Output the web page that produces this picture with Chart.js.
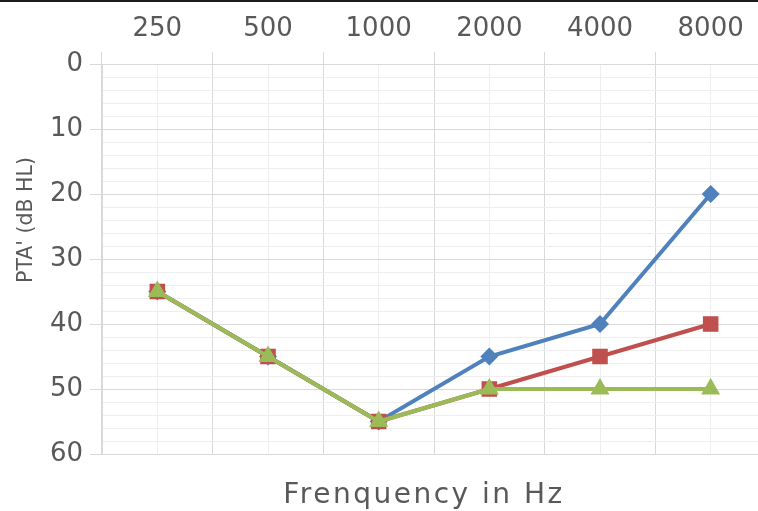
<!DOCTYPE html>
<html>
<head>
<meta charset="utf-8">
<script src="https://cdn.jsdelivr.net/npm/chart.js@4.4.1/dist/chart.umd.min.js"></script>
<style>
  html, body { margin: 0; padding: 0; background: #fff; overflow: hidden; }
  #wrap { position: relative; width: 777px; height: 511px; }
  #topline { position: absolute; left: 0; top: 0; width: 758px; height: 2px; background: #1c1c1c; z-index: 2; }
</style>
</head>
<body>
<div id="wrap">
  <div id="topline"></div>
  <canvas id="chart" width="777" height="511"></canvas>
</div>
<script>
// ── Data ──
const frequencies = ['250', '500', '1000', '2000', '4000', '8000'];
const seriesBlue  = [35, 45, 55, 45, 40, 20];
const seriesRed   = [35, 45, 55, 50, 45, 40];
const seriesGreen = [35, 45, 55, 50, 50, 50];
const yTitle = "PTA' (dB HL)";
const xTitle = 'Frenquency in Hz';

const textColor = '#595959';
const majorGrid = '#d9d9d9';
const minorGrid = '#eeeeee';

// axis titles drawn by hand so they sit where the source puts them
const titlesPlugin = {
  id: 'axisTitles',
  afterDraw(chart) {
    const { ctx } = chart;
    ctx.save();
    ctx.fillStyle = textColor;
    ctx.textAlign = 'center';
    ctx.textBaseline = 'middle';
    ctx.font = '28px "DejaVu Sans"';
    ctx.letterSpacing = '2.5px';
    ctx.fillText(xTitle, 424, 496);
    ctx.letterSpacing = '0px';
    ctx.translate(27, 220);
    ctx.rotate(-Math.PI / 2);
    ctx.font = '20.5px "DejaVu Sans"';
    ctx.fillText(yTitle, 0, 0);
    ctx.restore();
  }
};

new Chart(document.getElementById('chart'), {
  type: 'line',
  data: {
    labels: frequencies,
    datasets: [
      { data: seriesBlue, borderColor: '#4F81BD', backgroundColor: '#4F81BD', pointStyle: 'rectRot', pointRadius: 9, order: 2 },
      { data: seriesRed, borderColor: '#C0504D', backgroundColor: '#C0504D', pointStyle: 'rect', pointRadius: 11, order: 1 },
      { data: seriesGreen, borderColor: '#9BBB59', backgroundColor: '#9BBB59', pointStyle: 'triangle', pointRadius: 11, order: 0 },
    ].map(ds => ({ ...ds, borderWidth: 4, pointBorderWidth: 0, tension: 0, fill: false, xAxisID: 'x' })),
  },
  options: {
    responsive: false,
    animation: false,
    layout: { padding: { left: 0, right: 2, top: 0, bottom: 0 } },
    plugins: { legend: { display: false }, tooltip: { enabled: false } },
    scales: {
      x: {
        position: 'top',
        offset: true,
        grid: { offset: true, color: majorGrid, tickLength: 12, lineWidth: 1 },
        border: { display: false },
        ticks: { color: textColor, font: { family: 'DejaVu Sans', size: 26 }, padding: 7, maxRotation: 0 },
        afterFit(scale) { scale.height = 64; },
      },
      x2: {
        type: 'category',
        labels: frequencies,
        position: 'bottom',
        offset: true,
        grid: { offset: false, color: minorGrid, drawTicks: false },
        border: { color: majorGrid, width: 1 },
        ticks: { display: false },
        afterFit(scale) { scale.height = 57; },
      },
      y: {
        reverse: true,
        min: 0,
        max: 60,
        ticks: {
          stepSize: 2,
          autoSkip: false,
          color: textColor,
          font: { family: 'DejaVu Sans', size: 26 },
          padding: 7,
          callback: v => (v % 10 === 0 ? v : ''),
        },
        grid: {
          color: ctx => (ctx.tick && ctx.tick.value % 10 === 0 ? majorGrid : minorGrid),
          tickColor: ctx => (ctx.tick && ctx.tick.value % 10 === 0 ? majorGrid : 'rgba(0,0,0,0)'),
          tickLength: 12,
        },
        border: { color: majorGrid },
        afterFit(scale) { scale.width = 102; },
      },
    },
  },
  plugins: [titlesPlugin],
});
</script>
</body>
</html>
